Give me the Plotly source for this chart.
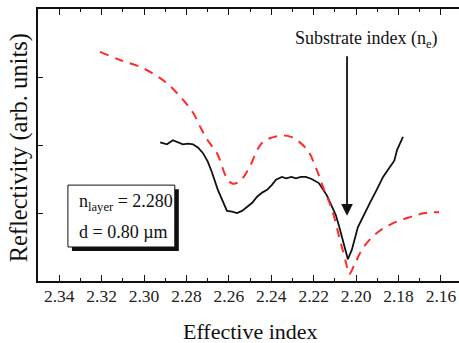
import plotly.graph_objects as go

# Measured reflectivity (black solid)
meas_x = [2.2924, 2.2892, 2.2864, 2.2840, 2.2817, 2.2793, 2.2769, 2.2745, 2.2722, 2.2700, 2.2680,
          2.2652, 2.2630, 2.2609, 2.2585, 2.2562, 2.2538, 2.2514, 2.2490, 2.2467, 2.2443, 2.2420,
          2.2398, 2.2378, 2.2350, 2.2330, 2.2305, 2.2284, 2.2260, 2.2237, 2.2210, 2.2176, 2.2155,
          2.2138, 2.2115, 2.2096, 2.2080, 2.2067, 2.2050, 2.2039, 2.2020, 2.1992, 2.1960, 2.1935,
          2.1905, 2.1873, 2.1840, 2.1820, 2.1807, 2.1779]
meas_y = [2.04, 2.01, 2.07, 2.04, 2.01, 2.02, 2.01, 1.96, 1.88, 1.76, 1.60,
          1.34, 1.18, 1.03, 1.02, 1.00, 1.03, 1.09, 1.15, 1.24, 1.30, 1.34,
          1.41, 1.49, 1.53, 1.51, 1.53, 1.51, 1.53, 1.53, 1.50, 1.44, 1.35,
          1.26, 1.10, 0.97, 0.80, 0.63, 0.45, 0.32, 0.46, 0.79, 0.98, 1.15,
          1.33, 1.53, 1.68, 1.77, 1.93, 2.12]

# Simulated reflectivity (red dashed)
sim_x = [2.3208, 2.3113, 2.3005, 2.2901, 2.2829, 2.2768, 2.2736, 2.2700, 2.2656, 2.2609, 2.2581,
         2.2548, 2.2505, 2.2444, 2.2373, 2.2307, 2.2231, 2.2189, 2.2156, 2.2113, 2.2076, 2.2047,
         2.2033, 2.2005, 2.1967, 2.1901, 2.1826, 2.1746, 2.1675, 2.1609]
sim_y = [3.37, 3.25, 3.13, 2.93, 2.71, 2.47, 2.27, 2.07, 1.88, 1.51, 1.43,
         1.47, 1.66, 2.03, 2.13, 2.12, 1.93, 1.66, 1.38, 1.04, 0.60, 0.26,
         0.10, 0.26, 0.49, 0.71, 0.85, 0.94, 1.00, 1.01]

y_ticks = [1, 2, 3]
x_ticks = [2.34, 2.32, 2.30, 2.28, 2.26, 2.24, 2.22, 2.20, 2.18, 2.16]
x_tick_labels = ["2.34", "2.32", "2.30", "2.28", "2.26", "2.24", "2.22", "2.20", "2.18", "2.16"]

SERIF = "Liberation Serif"

fig = go.Figure()
fig.add_trace(go.Scatter(x=meas_x, y=meas_y, mode="lines",
                         line=dict(color="#111111", width=1.8), showlegend=False))
fig.add_trace(go.Scatter(x=sim_x, y=sim_y, mode="lines", line_shape="spline",
                         line=dict(color="#ff2a2a", width=2, dash="9px,7px"), showlegend=False))

# legend-like box with shadow
fig.add_shape(type="rect", xref="x", yref="y", x0=2.3340, x1=2.2836, y0=0.44, y1=1.35,
              fillcolor="#111111", line=dict(width=0), layer="above")
fig.add_shape(type="rect", xref="x", yref="y", x0=2.3359, x1=2.2855, y0=0.50, y1=1.41,
              fillcolor="white", line=dict(color="#111111", width=1), layer="above")

annotations = [
    dict(x=2.3318, y=1.15, xref="x", yref="y", xanchor="left", yanchor="middle", showarrow=False,
         text="n<sub>layer</sub> = 2.280", font=dict(family=SERIF, size=18, color="#111111")),
    dict(x=2.3318, y=0.72, xref="x", yref="y", xanchor="left", yanchor="middle", showarrow=False,
         text="d = 0.80 µm", font=dict(family=SERIF, size=18, color="#111111")),
    dict(x=2.2043, y=0.96, xref="x", yref="y", ax=2.2043, ay=3.43, axref="x", ayref="y",
         showarrow=True, arrowhead=2, arrowsize=1.3, arrowwidth=1.8, arrowcolor="#111111", text=" "),
    dict(x=2.2300, y=3.55, xref="x", yref="y", xanchor="left", yanchor="middle", showarrow=False,
         text="Substrate index (n<sub>e</sub>)", font=dict(family=SERIF, size=18, color="#111111")),
    dict(x=0.505, y=-0.185, xref="paper", yref="paper", xanchor="center", yanchor="middle", showarrow=False,
         text="Effective index", font=dict(family=SERIF, size=22, color="#111111")),
    dict(x=-0.046, y=0.49, xref="paper", yref="paper", xanchor="center", yanchor="middle", showarrow=False,
         textangle=-90, text="Reflectivity (arb. units)", font=dict(family=SERIF, size=24.5, color="#111111")),
]

fig.update_layout(
    width=459, height=343,
    margin=dict(l=38, r=0, t=9, b=62),
    paper_bgcolor="white", plot_bgcolor="white",
    font=dict(family=SERIF, color="#111111"),
    annotations=annotations,
    xaxis=dict(range=[2.35, 2.1515], tickvals=x_ticks, ticktext=x_tick_labels,
               showgrid=False, zeroline=False, showline=True, linecolor="#111111", linewidth=1.5,
               mirror="ticks", ticks="inside", ticklen=6, tickwidth=1.2, tickcolor="#111111",
               minor=dict(dtick=0.01, tick0=2.34, ticks="inside", ticklen=3, tickwidth=1.2, tickcolor="#111111"),
               tickfont=dict(family=SERIF, size=17.5, color="#222222"), ticklabelstandoff=-2,
               automargin=False),
    yaxis=dict(range=[0, 4], tickvals=y_ticks, showticklabels=False,
               showgrid=False, zeroline=False, showline=True, linecolor="#111111", linewidth=1.5,
               ticks="inside", ticklen=5, tickwidth=1.2, tickcolor="#111111", automargin=False),
)

fig.write_html("out.html", config={"displayModeBar": False},
               post_script="document.body.style.margin='0';")
